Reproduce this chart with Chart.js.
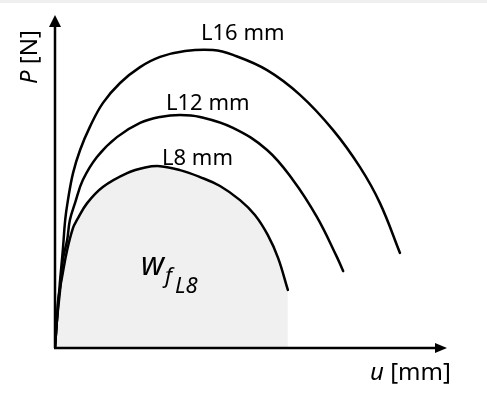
<!DOCTYPE html>
<html>
<head>
<meta charset="utf-8">
<script src="https://cdn.jsdelivr.net/npm/chart.js@4/dist/chart.umd.min.js"></script>
<style>
  html, body { margin: 0; padding: 0; background: #fff; }
  canvas { display: block; }
</style>
</head>
<body>
<canvas id="chart" width="487" height="395"></canvas>
<script>
// displacement u and force P, arbitrary units (0..10 on both axes)
const uL8 = [0, 0.05, 0.08, 0.18, 0.31, 0.46, 0.56, 0.82, 1.22, 1.84, 2.30, 2.68, 3.19, 3.70, 4.21, 4.72, 5.10, 5.43, 5.69, 5.94];
const pL8 = [0, 0.82, 1.42, 2.12, 2.94, 3.61, 3.85, 4.36, 4.85, 5.27, 5.44, 5.48, 5.36, 5.15, 4.88, 4.45, 4.00, 3.39, 2.70, 1.73];

const uL12 = [0, 0.05, 0.13, 0.20, 0.31, 0.38, 0.51, 0.71, 1.07, 1.58, 2.17, 2.68, 3.19, 3.70, 4.54, 5.41, 6.07, 6.68, 7.19, 7.35];
const pL12 = [0, 0.82, 1.73, 2.64, 3.24, 3.85, 4.36, 5.06, 5.76, 6.36, 6.79, 6.97, 7.03, 6.97, 6.64, 5.97, 5.06, 3.94, 2.73, 2.30];

const uL16 = [0, 0.05, 0.13, 0.20, 0.26, 0.33, 0.46, 0.64, 0.89, 1.22, 1.66, 2.17, 2.68, 3.32, 4.03, 4.54, 5.41, 6.25, 7.09, 7.78, 8.29, 8.80];
const pL16 = [0, 0.82, 2.03, 2.94, 3.85, 4.45, 5.27, 5.97, 6.67, 7.39, 8.00, 8.48, 8.79, 8.97, 9.00, 8.85, 8.39, 7.64, 6.58, 5.45, 4.36, 2.85];

const seriesLabels = ['L8 mm', 'L12 mm', 'L16 mm'];

const toPoints = (us, ps) => us.map((u, i) => ({ x: u, y: ps[i] }));

const lineStyle = {
  borderColor: '#000',
  borderWidth: 2.5,
  pointRadius: 0,
  tension: 0.4,
  borderCapStyle: 'round'
};

// axes with arrows and all the annotation text
const sketchPlugin = {
  id: 'sketch',
  beforeDraw(chart) {
    const ctx = chart.ctx;
    ctx.save();
    ctx.fillStyle = '#efefef';
    ctx.fillRect(0, 0, chart.width, 3);
    ctx.restore();
  },
  afterDatasetsDraw(chart) {
    const ctx = chart.ctx;
    const xs = chart.scales.x;
    const ys = chart.scales.y;
    const x0 = xs.getPixelForValue(0);
    const y0 = ys.getPixelForValue(0) + 1;
    const xEnd = xs.getPixelForValue(10);
    const yEnd = ys.getPixelForValue(10) - 2;

    ctx.save();
    ctx.strokeStyle = '#000';
    ctx.fillStyle = '#000';
    ctx.lineWidth = 2.5;

    ctx.beginPath();
    ctx.moveTo(x0, y0);
    ctx.lineTo(x0, yEnd + 8);
    ctx.moveTo(x0 - 1, y0);
    ctx.lineTo(xEnd - 8, y0);
    ctx.stroke();

    ctx.beginPath();
    ctx.moveTo(x0, yEnd);
    ctx.lineTo(x0 - 6, yEnd + 12);
    ctx.lineTo(x0 + 6, yEnd + 12);
    ctx.closePath();
    ctx.fill();

    ctx.beginPath();
    ctx.moveTo(xEnd, y0);
    ctx.lineTo(xEnd - 12, y0 - 5);
    ctx.lineTo(xEnd - 12, y0 + 5);
    ctx.closePath();
    ctx.fill();

    const font = '"Noto Sans", sans-serif';
    ctx.textBaseline = 'alphabetic';
    ctx.textAlign = 'left';

    // curve labels
    ctx.font = '22px ' + font;
    ctx.fillText(seriesLabels[2], 201, 40);
    ctx.fillText(seriesLabels[1], 166, 110);
    ctx.fillText(seriesLabels[0], 162, 165);

    // x axis title
    ctx.font = 'italic 24px ' + font;
    ctx.fillText('u', 370, 380);
    let w = ctx.measureText('u ').width;
    ctx.font = '24px ' + font;
    ctx.fillText('[mm]', 370 + w, 380);

    // y axis title
    ctx.save();
    ctx.translate(37, 84);
    ctx.rotate(-Math.PI / 2);
    ctx.font = 'italic 24px ' + font;
    ctx.fillText('P', 0, 0);
    w = ctx.measureText('P ').width;
    ctx.font = '24px ' + font;
    ctx.fillText('[N]', w, 0);
    ctx.restore();

    // fracture work label
    ctx.font = 'italic 32px ' + font;
    ctx.fillText('w', 141, 275);
    ctx.font = 'italic 22px ' + font;
    ctx.fillText('f', 165, 283);
    ctx.fillText('L8', 175, 293);

    ctx.restore();
  }
};

new Chart(document.getElementById('chart'), {
  type: 'line',
  data: {
    datasets: [
      { label: seriesLabels[0], data: toPoints(uL8, pL8), fill: 'origin', backgroundColor: '#f0f0f0', ...lineStyle },
      { label: seriesLabels[1], data: toPoints(uL12, pL12), fill: false, ...lineStyle },
      { label: seriesLabels[2], data: toPoints(uL16, pL16), fill: false, ...lineStyle }
    ]
  },
  options: {
    responsive: false,
    animation: false,
    devicePixelRatio: 1,
    layout: { padding: { left: 55, right: 40, top: 17, bottom: 48 } },
    scales: {
      x: { type: 'linear', min: 0, max: 10, display: false },
      y: { type: 'linear', min: 0, max: 10, display: false }
    },
    plugins: {
      legend: { display: false },
      tooltip: { enabled: false },
      filler: { drawTime: 'beforeDatasetsDraw' }
    }
  },
  plugins: [sketchPlugin]
});
</script>
</body>
</html>
